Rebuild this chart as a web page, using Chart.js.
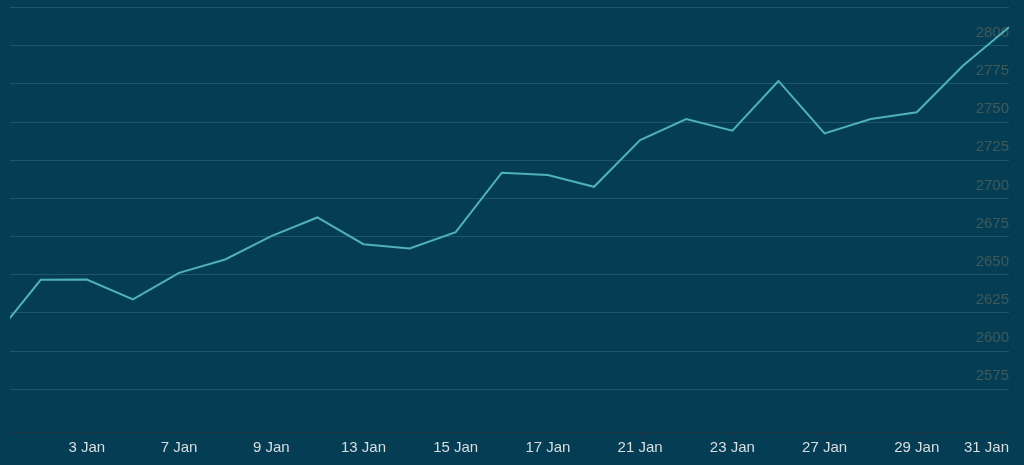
<!DOCTYPE html>
<html><head><meta charset="utf-8">
<script src="https://cdn.jsdelivr.net/npm/chart.js@4/dist/chart.umd.min.js"></script>
<style>
html,body{margin:0;padding:0;background:#053e54;}
#wrap{width:1024px;height:465px;position:relative;}
</style>
</head><body>
<div id="wrap"><canvas id="c"></canvas></div>
<script>
const categories = ['31 Dec','2 Jan','3 Jan','6 Jan','7 Jan','8 Jan','9 Jan','10 Jan','13 Jan','14 Jan','15 Jan','16 Jan','17 Jan','20 Jan','21 Jan','22 Jan','23 Jan','24 Jan','27 Jan','28 Jan','29 Jan','30 Jan','31 Jan'];
const values = [2609.3,2646.7,2646.9,2633.8,2651.2,2660.0,2675.3,2687.5,2670.0,2667.2,2677.9,2716.8,2715.3,2707.6,2738.2,2752.0,2744.3,2776.9,2742.6,2752.0,2756.4,2786.9,2812.1];
const xTickLabels = ['3 Jan','7 Jan','9 Jan','13 Jan','15 Jan','17 Jan','21 Jan','23 Jan','27 Jan','29 Jan','31 Jan'];
const yGridValues = [2575,2600,2625,2650,2675,2700,2725,2750,2775,2800,2825];
const yTickLabels = [2575,2600,2625,2650,2675,2700,2725,2750,2775,2800];

const X_MIN = 0.334, X_MAX = categories.length - 1;

new Chart(document.getElementById('c'), {
  type: 'line',
  data: {
    datasets: [{
      data: values.map((v, i) => ({x: i, y: v})),
      borderColor: '#4eb1bc',
      borderWidth: 2,
      pointRadius: 0,
      tension: 0,
      fill: false,
      clip: 0
    }]
  },
  options: {
    responsive: true,
    maintainAspectRatio: false,
    animation: false,
    events: [],
    layout: {padding: {left: 10, right: 15, top: 0, bottom: 5}},
    plugins: {legend: {display: false}, tooltip: {enabled: false}},
    scales: {
      x: {
        type: 'linear',
        min: X_MIN,
        max: X_MAX,
        afterBuildTicks: (axis) => {
          axis.ticks = [{value: X_MIN}].concat(xTickLabels.map(l => ({value: categories.indexOf(l)})));
        },
        ticks: {
          autoSkip: false,
          maxRotation: 0,
          align: 'inner',
          padding: 3,
          color: '#d9dee1',
          font: {family: '"Liberation Sans", Arial, sans-serif', size: 15},
          callback: (value, index) => index === 0 ? '' : categories[Math.round(value)]
        },
        grid: {
          drawOnChartArea: false,
          drawTicks: true,
          tickLength: 4,
          tickColor: (ctx) => ctx.index === 0 ? 'rgba(0,0,0,0)' : '#1b3340'
        },
        border: {display: true, color: '#1b3340', width: 1}
      },
      y: {
        position: 'right',
        min: 2547,
        max: 2825.5,
        afterBuildTicks: (axis) => {
          axis.ticks = yGridValues.map(v => ({value: v}));
        },
        ticks: {
          mirror: true,
          padding: 0,
          labelOffset: -13,
          color: '#3f5a59',
          font: {family: '"Liberation Sans", Arial, sans-serif', size: 15, lineHeight: 0.9},
          callback: (value) => yTickLabels.includes(value) ? String(value) : ''
        },
        grid: {
          color: '#1f5668',
          lineWidth: 1,
          drawTicks: false
        },
        border: {display: false}
      }
    }
  }
});
</script>
</body></html>
